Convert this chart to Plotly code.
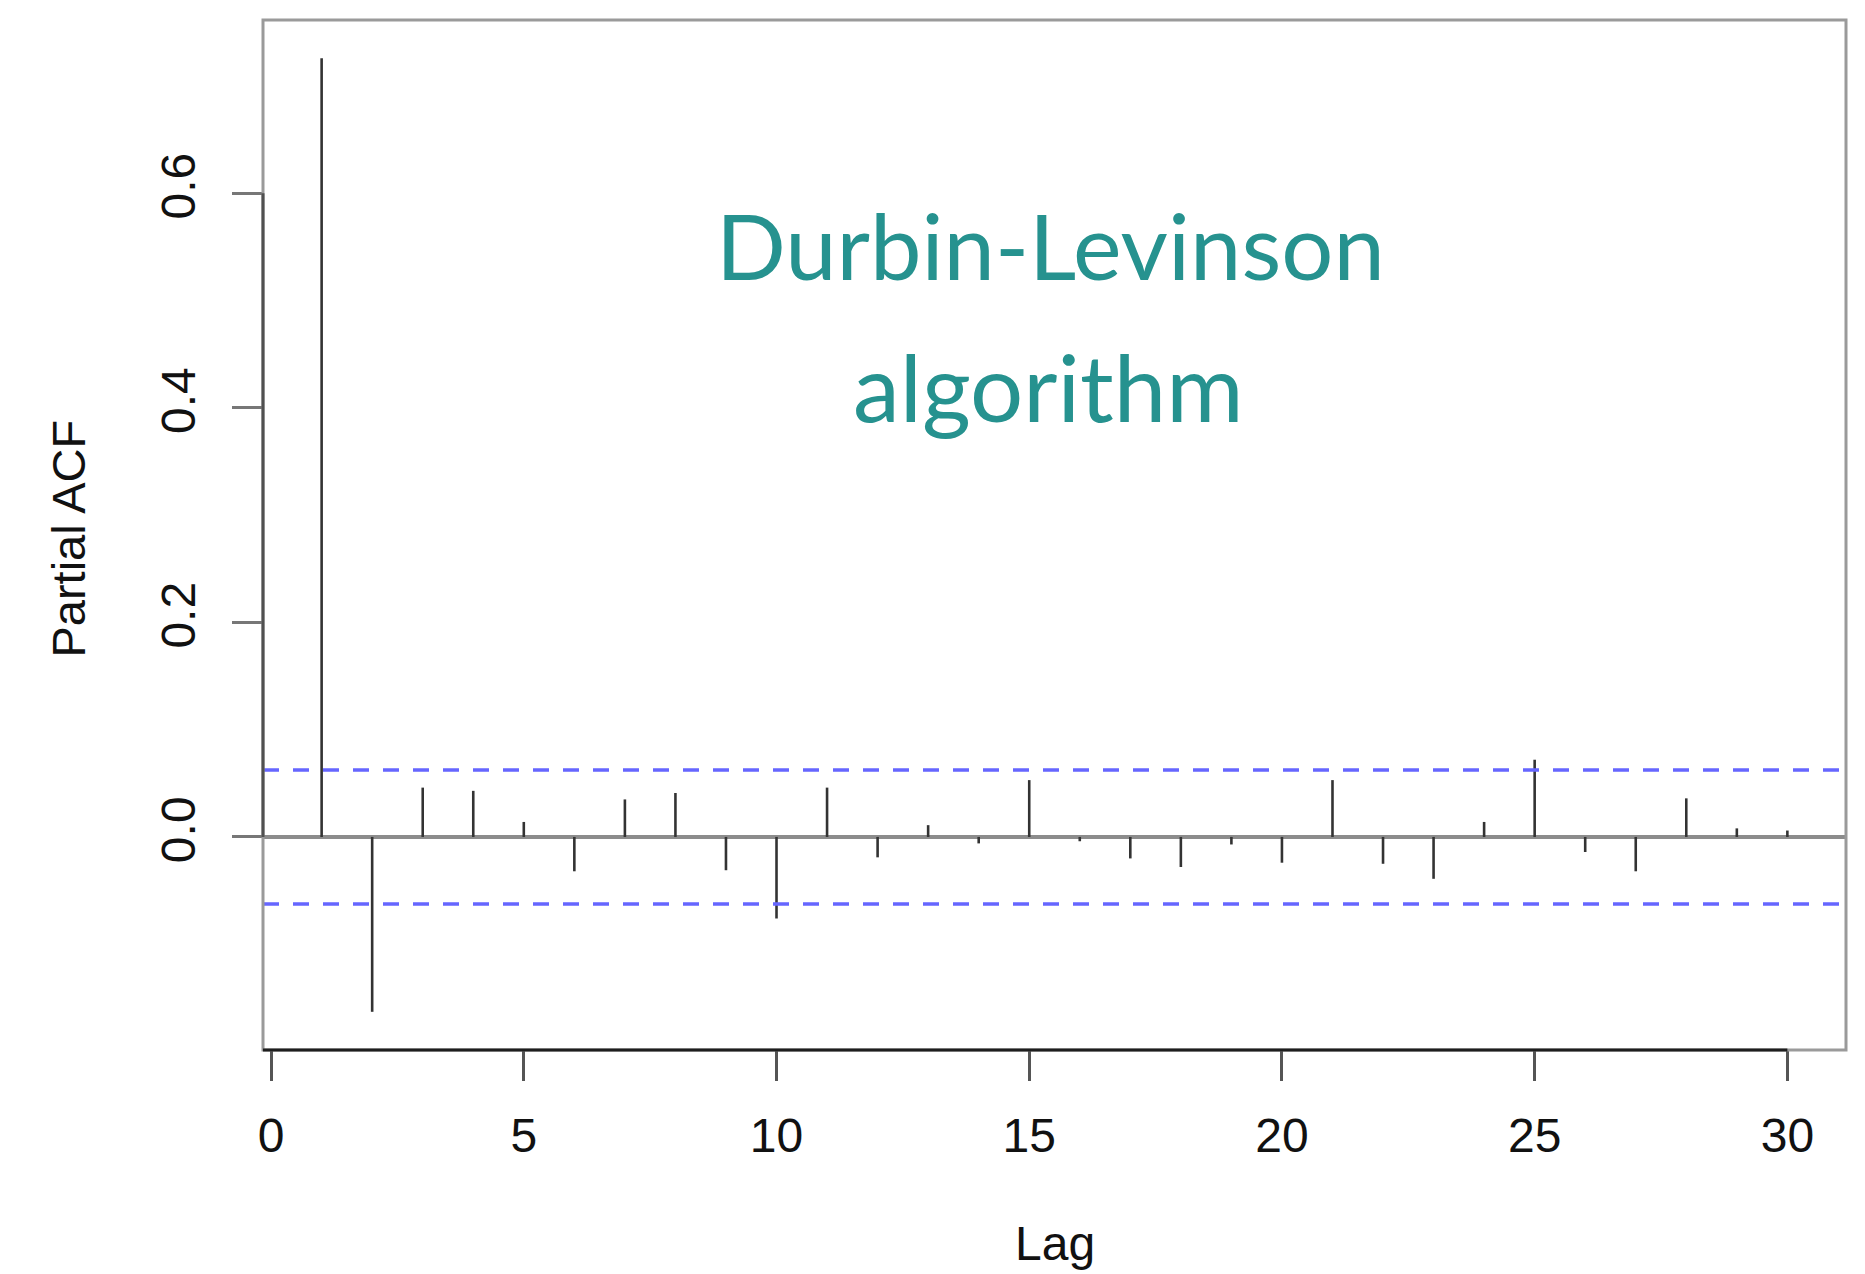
import plotly.graph_objects as go

# Partial autocorrelation estimates, lags 1..30
lags = list(range(1, 31))
pacf = [0.726, -0.163, 0.046, 0.043, 0.014, -0.032, 0.035, 0.041, -0.031, -0.076,
        0.046, -0.019, 0.011, -0.006, 0.053, -0.004, -0.020, -0.028, -0.007, -0.024,
        0.053, -0.025, -0.039, 0.014, 0.072, -0.014, -0.032, 0.036, 0.008, 0.006]
conf_bound = 0.0625  # approx. 95% white-noise band

x_ticks = [0, 5, 10, 15, 20, 25, 30]
y_ticks = [0.0, 0.2, 0.4, 0.6]
y_tick_text = ["0.0", "0.2", "0.4", "0.6"]

x_range = [-0.16, 31.16]
y_range = [-0.1986, 0.7616]

AX_FONT = "Liberation Sans, Arial, Helvetica, sans-serif"

# vertical spikes, one segment per lag
sx, sy = [], []
for k, v in zip(lags, pacf):
    sx += [k, k, None]
    sy += [0, v, None]

fig = go.Figure()
fig.add_trace(go.Scatter(x=sx, y=sy, mode="lines",
                         line=dict(color="#333333", width=2.6),
                         hoverinfo="skip", showlegend=False))

shapes = [
    # horizontal reference at zero
    dict(type="line", xref="paper", yref="y", x0=0, x1=1, y0=0, y1=0,
         line=dict(color="#8c8c8c", width=4), layer="below"),
    # significance band
    dict(type="line", xref="paper", yref="y", x0=0, x1=1, y0=conf_bound, y1=conf_bound,
         line=dict(color="#6666ff", width=3.5, dash="16px,14px")),
    dict(type="line", xref="paper", yref="y", x0=0, x1=1, y0=-conf_bound, y1=-conf_bound,
         line=dict(color="#6666ff", width=3.5, dash="16px,14px")),
    # plot box
    dict(type="rect", xref="paper", yref="paper", x0=0, x1=1, y0=0, y1=1,
         line=dict(color="#9a9a9a", width=3)),
    # axis lines spanning the tick range
    dict(type="line", xref="paper", yref="y", x0=0, x1=0, y0=y_ticks[0], y1=y_ticks[-1],
         line=dict(color="#505050", width=3)),
    dict(type="line", xref="x", yref="paper", x0=x_range[0], x1=x_ticks[-1], y0=0, y1=0,
         line=dict(color="#1e1e1e", width=3)),
]

annotations = [
    dict(text="Durbin-Levinson", xref="paper", yref="paper", x=0.4972, y=0.7821,
         xanchor="center", yanchor="middle", showarrow=False,
         font=dict(family="Lato, sans-serif", size=92, color="#26928f")),
    dict(text="algorithm", xref="paper", yref="paper", x=0.4965, y=0.6447,
         xanchor="center", yanchor="middle", showarrow=False,
         font=dict(family="Lato, sans-serif", size=94, color="#26928f")),
    dict(text="Lag", xref="paper", yref="paper", x=0.5, y=-0.1883,
         xanchor="center", yanchor="middle", showarrow=False,
         font=dict(family=AX_FONT, size=48, color="#111111")),
    dict(text="Partial ACF", xref="paper", yref="paper", x=-0.1229, y=0.497,
         xanchor="center", yanchor="middle", showarrow=False, textangle=-90,
         font=dict(family=AX_FONT, size=47, color="#111111")),
]

fig.update_layout(
    width=1865, height=1274,
    margin=dict(l=263, r=19, t=20, b=224),
    paper_bgcolor="white", plot_bgcolor="white",
    shapes=shapes, annotations=annotations,
    xaxis=dict(range=x_range, tickvals=x_ticks, ticks="outside", ticklen=30,
               tickwidth=2.5, tickcolor="#555555", showgrid=False, zeroline=False,
               showline=False, tickfont=dict(family=AX_FONT, size=48, color="#111111"),
               ticklabelstandoff=13),
    yaxis=dict(range=y_range, tickvals=y_ticks, ticktext=y_tick_text, ticks="outside",
               ticklen=30, tickwidth=2.5, tickcolor="#777777", showgrid=False,
               zeroline=False, showline=False, tickangle=-90,
               tickfont=dict(family=AX_FONT, size=48, color="#111111"),
               ticklabelstandoff=18),
)

fig.write_html("out.html", config={"displayModeBar": False})
